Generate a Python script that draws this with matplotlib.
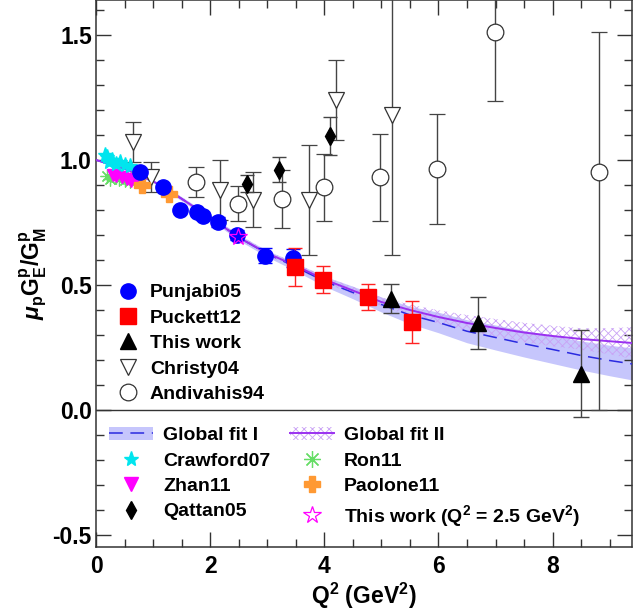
import matplotlib
matplotlib.use('Agg')
import matplotlib.pyplot as plt
from matplotlib.lines import Line2D
from matplotlib.patches import Patch
from matplotlib.ticker import MultipleLocator, FormatStrFormatter

plt.rcParams['font.family'] = ['Liberation Sans', 'DejaVu Sans']
plt.rcParams['font.weight'] = 'bold'
plt.rcParams['mathtext.fontset'] = 'custom'
plt.rcParams['mathtext.rm'] = 'Liberation Sans:bold'
plt.rcParams['mathtext.it'] = 'Liberation Sans:italic'
plt.rcParams['mathtext.bf'] = 'Liberation Sans:bold'
plt.rcParams['hatch.linewidth'] = 0.6

# global fits
fit_q2 = [0, 0.5, 1.0, 1.5, 2.0, 2.5, 3.0, 3.5, 4.0, 4.5, 5.0, 5.5, 6.0, 6.5, 7.0, 7.5, 8.0, 8.5, 9.0, 9.4]
fit1 = [1.0, 0.965, 0.915, 0.845, 0.77, 0.69, 0.625, 0.572, 0.515, 0.47, 0.422, 0.38, 0.35, 0.315, 0.29, 0.265, 0.242, 0.218, 0.198, 0.184]
fit1_err = [0.0, 0.004, 0.006, 0.008, 0.009, 0.011, 0.013, 0.016, 0.02, 0.025, 0.03, 0.035, 0.041, 0.046, 0.05, 0.053, 0.056, 0.058, 0.061, 0.064]
fit2 = [1.0, 0.965, 0.915, 0.845, 0.77, 0.69, 0.627, 0.577, 0.522, 0.478, 0.432, 0.4, 0.372, 0.348, 0.328, 0.31, 0.296, 0.284, 0.275, 0.268]
fit2_err = [0.0, 0.004, 0.006, 0.007, 0.008, 0.009, 0.01, 0.011, 0.012, 0.015, 0.018, 0.022, 0.027, 0.032, 0.036, 0.039, 0.041, 0.043, 0.052, 0.064]

pun_q2 = [0.77, 1.18, 1.48, 1.77, 1.88, 2.13, 2.47, 2.96, 3.46]
pun_r = [0.95, 0.89, 0.80, 0.79, 0.775, 0.75, 0.70, 0.616, 0.608]
pun_err = [0.01, 0.01, 0.012, 0.012, 0.014, 0.02, 0.02, 0.03, 0.036]

puck_q2 = [3.48, 3.97, 4.76, 5.54]
puck_r = [0.572, 0.52, 0.452, 0.352]
puck_err = [0.075, 0.054, 0.052, 0.085]

tw_q2 = [5.17, 6.70, 8.49]
tw_r = [0.444, 0.348, 0.144]
tw_err = [0.058, 0.104, 0.174]

chr_q2 = [0.65, 0.96, 2.17, 2.75, 3.74, 4.20, 5.19]
chr_r = [1.07, 0.93, 0.88, 0.84, 0.84, 1.24, 1.18]
chr_err = [0.08, 0.06, 0.12, 0.11, 0.22, 0.16, 0.56]

and_q2 = [1.75, 2.49, 3.25, 3.99, 4.98, 5.98, 6.99, 8.82]
and_r = [0.91, 0.824, 0.844, 0.89, 0.93, 0.964, 1.51, 0.95]
and_lo = [0.06, 0.07, 0.115, 0.135, 0.175, 0.22, 0.275, 0.95]
and_hi = [0.06, 0.07, 0.115, 0.135, 0.175, 0.22, 0.275, 0.56]

qat_q2 = [2.64, 3.20, 4.10]
qat_r = [0.905, 0.96, 1.096]
qat_err = [0.035, 0.05, 0.076]

craw_q2 = [0.16, 0.19, 0.23, 0.28, 0.35, 0.42, 0.50, 0.59]
craw_r = [1.02, 1.01, 0.99, 1.00, 0.985, 0.99, 0.98, 0.975]

ron_q2 = [0.20, 0.25, 0.30, 0.35, 0.40, 0.45, 0.50, 0.55, 0.60]
ron_r = [0.935, 0.925, 0.94, 0.93, 0.925, 0.935, 0.92, 0.93, 0.915]

zhan_q2 = [0.30, 0.35, 0.45, 0.55, 0.62, 0.70]
zhan_r = [0.94, 0.935, 0.93, 0.925, 0.915, 0.92]

pao_q2 = [0.80, 1.28]
pao_r = [0.90, 0.865]

star_q2 = [2.48]
star_r = [0.69]

fig = plt.figure(figsize=(6.33, 6.10), dpi=100)
ax = fig.add_axes([0.1517, 0.1033, 0.8466, 0.8967])

blue_band = '#c6c6fc'
purple = '#9a30f0'
hatch_col = '#c9a2f5'
asterisk = (8, 2, 0)

ax.fill_between(fit_q2, [a - b for a, b in zip(fit1, fit1_err)], [a + b for a, b in zip(fit1, fit1_err)],
                color=blue_band, lw=0, zorder=1)
ax.fill_between(fit_q2, [a - b for a, b in zip(fit2, fit2_err)], [a + b for a, b in zip(fit2, fit2_err)],
                facecolor='none', edgecolor=hatch_col, hatch='xxxx', lw=0, zorder=2)
ax.plot(fit_q2, fit1, color='#2a2ae0', lw=1.1, dashes=(9, 5), zorder=3)
ax.plot(fit_q2, fit2, color=purple, lw=1.4, zorder=3)

ax.axhline(0, color='#333333', lw=1.0, zorder=2)

grey = '#444444'
ax.errorbar(chr_q2, chr_r, yerr=chr_err, fmt='v', ms=11, mfc='white', mec='#333333', mew=0.9,
            ecolor=grey, elinewidth=1.0, capsize=6, capthick=1.0, zorder=4)
ax.errorbar(and_q2, and_r, yerr=[and_lo, and_hi], fmt='o', ms=12, mfc='white', mec='#333333', mew=0.9,
            ecolor=grey, elinewidth=1.0, capsize=6, capthick=1.0, zorder=4)
ax.errorbar(qat_q2, qat_r, yerr=qat_err, fmt='d', ms=9, color='black',
            ecolor=grey, elinewidth=1.0, capsize=5, capthick=1.0, zorder=5)
ax.plot(ron_q2, ron_r, ls='none', marker=asterisk, ms=10, mew=0.9, color='#66dd66', zorder=5)
ax.plot(zhan_q2, zhan_r, ls='none', marker='v', ms=8, color='#ff00ff', zorder=5)
ax.plot(craw_q2, craw_r, ls='none', marker='*', ms=11, color='#00e5ee', zorder=5)
ax.plot(pao_q2, pao_r, ls='none', marker='P', ms=11, color='#ff9933', zorder=6)
ax.errorbar(pun_q2, pun_r, yerr=pun_err, fmt='o', ms=11, color='#0000ff',
            ecolor='#0000ff', elinewidth=1.0, capsize=5, zorder=6)
ax.errorbar(puck_q2, puck_r, yerr=puck_err, fmt='s', ms=11, color='#ff0000',
            ecolor='#ff2222', elinewidth=1.0, capsize=5, zorder=6)
ax.errorbar(tw_q2, tw_r, yerr=tw_err, fmt='^', ms=11, color='black',
            ecolor=grey, elinewidth=1.0, capsize=6, zorder=6)
ax.plot(star_q2, star_r, ls='none', marker='*', ms=13, mfc='none', mec='#ff00ff', mew=0.9, zorder=7)

ax.set_xlim(0, 9.39)
ax.set_ylim(-0.548, 1.64)
ax.xaxis.set_major_locator(MultipleLocator(2))
ax.xaxis.set_minor_locator(MultipleLocator(0.5))
ax.yaxis.set_major_locator(MultipleLocator(0.5))
ax.yaxis.set_minor_locator(MultipleLocator(0.1))
ax.yaxis.set_major_formatter(FormatStrFormatter('%.1f'))
ax.tick_params(which='both', direction='in', top=True, right=True, color='#333333', width=1.0)
ax.tick_params(which='major', length=11, labelsize=16.5)
ax.tick_params(which='minor', length=5.5)
ax.tick_params(axis='x', which='major', pad=6)
ax.tick_params(axis='y', which='major', pad=3)
for s in ax.spines.values():
    s.set_linewidth(1.1)
    s.set_color('#333333')

ax.set_xlabel(r'Q$^{\rm 2}$ (GeV$^{\rm 2}$)', fontsize=16.5, fontweight='bold')
ax.set_ylabel(r'$\mu_{\rm p}$G$_{\rm E}^{\rm p}$/G$_{\rm M}^{\rm p}$', fontsize=16.5, fontweight='bold')
ax.xaxis.set_label_coords(0.5, -0.062)
ax.yaxis.set_label_coords(-0.088, 0.5)

h1 = [
    Line2D([], [], ls='none', marker='o', ms=11, color='#0000ff'),
    Line2D([], [], ls='none', marker='s', ms=11, color='#ff0000'),
    Line2D([], [], ls='none', marker='^', ms=11, color='black'),
    Line2D([], [], ls='none', marker='v', ms=11, mfc='white', mec='#333333', mew=0.9),
    Line2D([], [], ls='none', marker='o', ms=12, mfc='white', mec='#333333', mew=0.9),
]
l1 = ['Punjabi05', 'Puckett12', 'This work', 'Christy04', 'Andivahis94']
leg1 = ax.legend(h1, l1, loc='upper left', bbox_to_anchor=(0.017, 0.506), frameon=False, fontsize=14,
                 handlelength=1.0, handletextpad=0.6, labelspacing=0.4, borderpad=0.2)
ax.add_artist(leg1)

fit1_h = (Patch(facecolor=blue_band, lw=0), Line2D([], [], color='#2a2ae0', lw=1.1, dashes=(9, 5)))
fit2_h = (Patch(facecolor='none', edgecolor=hatch_col, hatch='xxxx', lw=0), Line2D([], [], color=purple, lw=1.4))
h2 = [
    fit1_h,
    Line2D([], [], ls='none', marker='*', ms=11, color='#00e5ee'),
    Line2D([], [], ls='none', marker='v', ms=10, color='#ff00ff'),
    Line2D([], [], ls='none', marker='d', ms=9, color='black'),
    fit2_h,
    Line2D([], [], ls='none', marker=asterisk, ms=12, mew=0.9, color='#66dd66'),
    Line2D([], [], ls='none', marker='P', ms=11, color='#ff9933'),
    Line2D([], [], ls='none', marker='*', ms=13, mfc='none', mec='#ff00ff', mew=0.9),
]
l2 = ['Global fit I', 'Crawford07', 'Zhan11', 'Qattan05',
      'Global fit II', 'Ron11', 'Paolone11', r'This work (Q$^{\rm 2}$ = 2.5 GeV$^{\rm 2}$)']
ax.legend(h2, l2, ncol=2, loc='upper left', bbox_to_anchor=(-0.002, 0.245), frameon=False, fontsize=14,
          handlelength=2.3, handletextpad=0.5, labelspacing=0.4, columnspacing=1.0, borderpad=0.2)

fig.savefig('out.png', dpi=100)
